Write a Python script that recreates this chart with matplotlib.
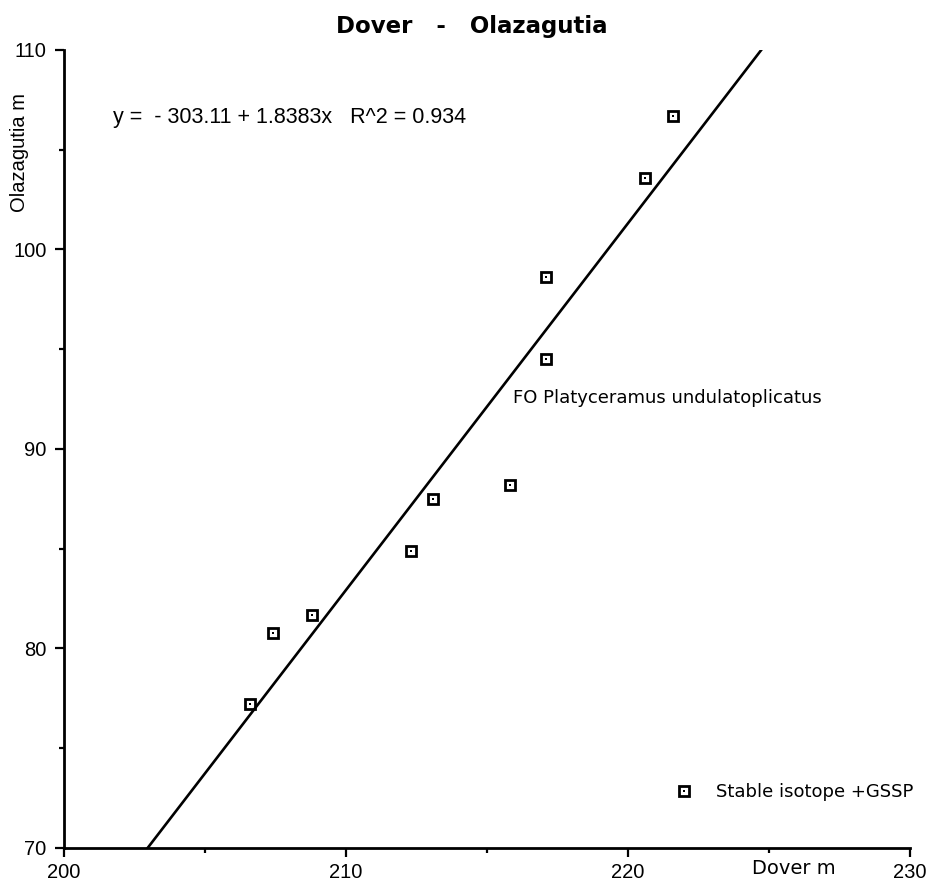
import matplotlib
matplotlib.use("Agg")
import matplotlib.pyplot as plt
import numpy as np
from matplotlib.legend_handler import HandlerTuple

# data
dover_m = [206.6, 207.4, 208.8, 212.3, 213.1, 215.8, 217.1, 217.1, 220.6, 221.6]
olazagutia_m = [77.2, 80.8, 81.7, 84.9, 87.5, 88.2, 94.5, 98.6, 103.6, 106.7]
intercept = -303.11
slope = 1.8383
r2 = 0.934
x_ticks = [200, 210, 220, 230]
y_ticks = [70, 80, 90, 100, 110]

plt.rcParams['font.family'] = ['Liberation Sans', 'DejaVu Sans']

fig = plt.figure(figsize=(9.32, 8.9), dpi=100)
ax = fig.add_axes([64 / 932, 42 / 890, 846 / 932, 798 / 890])

# regression line clipped to the y range
y_line = np.array([70, 110])
x_line = (y_line - intercept) / slope
ax.plot(x_line, y_line, color='black', lw=1.9)

# square marker with a dot in the middle
boxes, = ax.plot(dover_m, olazagutia_m, linestyle='none', marker='s', markersize=6.5,
                 markerfacecolor='none', markeredgecolor='black', markeredgewidth=2)
dots, = ax.plot(dover_m, olazagutia_m, linestyle='none', marker='s', markersize=1.7,
                markerfacecolor='black', markeredgewidth=0)

ax.set_xlim(200, 230)
ax.set_ylim(70, 110)
ax.set_xticks(x_ticks)
ax.set_yticks(y_ticks)
ax.set_xticks([205, 215, 225], minor=True)
ax.set_yticks([75, 85, 95, 105], minor=True)
ax.tick_params(which='major', length=6.5, width=1.6, labelsize=14.5, direction='out')
ax.tick_params(which='minor', length=3.6, width=1.6, direction='out')
ax.tick_params(axis='x', pad=4)
ax.tick_params(axis='y', pad=6)

for s in ['top', 'right']:
    ax.spines[s].set_visible(False)
for s in ['left', 'bottom']:
    ax.spines[s].set_linewidth(2)

fig.text(20 / 932, 1 - 152 / 890, 'Olazagutia m', rotation=90, fontsize=14.5,
         ha='center', va='center')
fig.text(794 / 932, 1 - 869 / 890, 'Dover m', fontsize=14, family='DejaVu Sans',
         ha='center', va='center')
fig.text(472 / 932, 1 - 33 / 890, 'Dover   -   Olazagutia', fontsize=16.5,
         fontweight='bold', family='DejaVu Sans', ha='center', va='baseline')

ax.text(201.74, 106.34, 'y =  - 303.11 + 1.8383x   R^2 = 0.934', fontsize=15.5,
        ha='left', va='baseline')
ax.text(215.92, 92.31, 'FO Platyceramus undulatoplicatus', fontsize=13,
        family='DejaVu Sans', ha='left', va='baseline')

ax.legend([(boxes, dots)], ['Stable isotope +GSSP'],
          handler_map={tuple: HandlerTuple(ndivide=1, pad=0)},
          loc='center left', bbox_to_anchor=(0.722, 0.070), frameon=False,
          borderaxespad=0, borderpad=0, handlelength=1, handletextpad=1.3,
          prop={'family': 'DejaVu Sans', 'size': 13})

fig.savefig('out.png', dpi=100)
